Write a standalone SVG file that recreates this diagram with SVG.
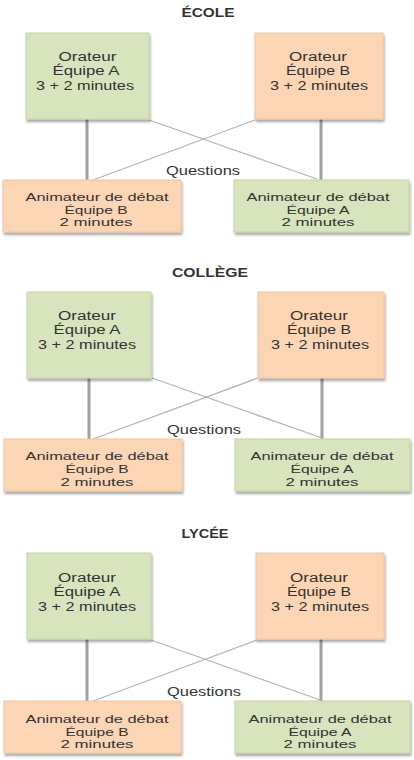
<svg xmlns="http://www.w3.org/2000/svg" width="414" height="760" viewBox="0 0 414 760">
<defs>
<filter id="sh" x="-10%" y="-10%" width="120%" height="130%">
<feDropShadow dx="1" dy="2.5" stdDeviation="1" flood-color="#000" flood-opacity="0.35"/>
</filter>
</defs>
<style>
.g{fill:#D7E4BD;stroke:#C4D6A0;stroke-width:1;filter:url(#sh)}
.o{fill:#FCD5B5;stroke:#F0C6A3;stroke-width:1;filter:url(#sh)}
.t{font-family:"Liberation Sans",Arial,sans-serif;font-size:12px;fill:#333;text-anchor:middle}
.s{font-family:"Liberation Sans",Arial,sans-serif;font-size:11px;fill:#333;text-anchor:middle}
.h{font-family:"Liberation Sans",Arial,sans-serif;font-size:13px;font-weight:bold;fill:#333;text-anchor:middle}
.v{stroke:#A0A0A0;stroke-width:3;fill:none}
.d{stroke:#B4B4B4;stroke-width:1.2;fill:none}
</style>
<rect width="414" height="760" fill="#fff"/>

<g id="connectors">
<line class="v" x1="87" y1="119" x2="87" y2="180"/>
<line class="v" x1="321" y1="119" x2="321" y2="180"/>
<line class="d" x1="149" y1="120" x2="317" y2="179"/>
<line class="d" x1="255" y1="120" x2="93" y2="180"/>
<line class="v" x1="89" y1="378" x2="89" y2="439"/>
<line class="v" x1="322" y1="378" x2="322" y2="439"/>
<line class="d" x1="152" y1="378" x2="322" y2="438"/>
<line class="d" x1="258" y1="378" x2="93" y2="439"/>
<line class="v" x1="87" y1="639" x2="87" y2="701"/>
<line class="v" x1="321" y1="639" x2="321" y2="701"/>
<line class="d" x1="151" y1="640" x2="320" y2="700"/>
<line class="d" x1="257" y1="640" x2="93" y2="701"/>
</g>

<g id="title-ecole"><text class="h" x="208" y="17" textLength="53" lengthAdjust="spacingAndGlyphs">ÉCOLE</text></g>
<g id="q1"><text class="t" x="203" y="175" textLength="74" lengthAdjust="spacingAndGlyphs">Questions</text></g>
<g id="ecole-orateur-a">
<rect class="g" x="26" y="33" width="123" height="86"/>
<text class="t" x="87.5" y="61" textLength="58" lengthAdjust="spacingAndGlyphs">Orateur</text>
<text class="t" x="86" y="75" textLength="67" lengthAdjust="spacingAndGlyphs">Équipe  A</text>
<text class="t" x="85" y="90" textLength="98" lengthAdjust="spacingAndGlyphs">3 + 2 minutes</text>
</g>
<g id="ecole-orateur-b">
<rect class="o" x="255" y="33" width="128" height="86"/>
<text class="t" x="318" y="61" textLength="58" lengthAdjust="spacingAndGlyphs">Orateur</text>
<text class="t" x="318" y="75" textLength="64" lengthAdjust="spacingAndGlyphs">Équipe  B</text>
<text class="t" x="319" y="90" textLength="98" lengthAdjust="spacingAndGlyphs">3 + 2 minutes</text>
</g>
<g id="ecole-animateur-b">
<rect class="o" x="3" y="180" width="178" height="52"/>
<text class="s" x="97" y="201" textLength="143" lengthAdjust="spacingAndGlyphs">Animateur de débat</text>
<text class="s" x="96" y="214" textLength="63" lengthAdjust="spacingAndGlyphs">Équipe B</text>
<text class="s" x="96" y="226" textLength="73" lengthAdjust="spacingAndGlyphs">2 minutes</text>
</g>
<g id="ecole-animateur-a">
<rect class="g" x="234" y="180" width="175" height="52"/>
<text class="s" x="318" y="201" textLength="143" lengthAdjust="spacingAndGlyphs">Animateur de débat</text>
<text class="s" x="318" y="214" textLength="63" lengthAdjust="spacingAndGlyphs">Équipe A</text>
<text class="s" x="318" y="226" textLength="73" lengthAdjust="spacingAndGlyphs">2 minutes</text>
</g>

<g id="title-college"><text class="h" x="210" y="277" textLength="76" lengthAdjust="spacingAndGlyphs">COLLÈGE</text></g>
<g id="q2"><text class="t" x="204" y="434" textLength="74" lengthAdjust="spacingAndGlyphs">Questions</text></g>
<g id="college-orateur-a">
<rect class="g" x="27" y="292" width="124" height="86"/>
<text class="t" x="87" y="320" textLength="58" lengthAdjust="spacingAndGlyphs">Orateur</text>
<text class="t" x="87" y="334" textLength="67" lengthAdjust="spacingAndGlyphs">Équipe  A</text>
<text class="t" x="87" y="349" textLength="98" lengthAdjust="spacingAndGlyphs">3 + 2 minutes</text>
</g>
<g id="college-orateur-b">
<rect class="o" x="258" y="292" width="126" height="86"/>
<text class="t" x="319" y="320" textLength="58" lengthAdjust="spacingAndGlyphs">Orateur</text>
<text class="t" x="319" y="334" textLength="64" lengthAdjust="spacingAndGlyphs">Équipe  B</text>
<text class="t" x="320" y="349" textLength="98" lengthAdjust="spacingAndGlyphs">3 + 2 minutes</text>
</g>
<g id="college-animateur-b">
<rect class="o" x="4" y="439" width="178" height="52"/>
<text class="s" x="97" y="460" textLength="143" lengthAdjust="spacingAndGlyphs">Animateur de débat</text>
<text class="s" x="97" y="473" textLength="63" lengthAdjust="spacingAndGlyphs">Équipe B</text>
<text class="s" x="97" y="486" textLength="73" lengthAdjust="spacingAndGlyphs">2 minutes</text>
</g>
<g id="college-animateur-a">
<rect class="g" x="235" y="439" width="175" height="52"/>
<text class="s" x="322" y="460" textLength="143" lengthAdjust="spacingAndGlyphs">Animateur de débat</text>
<text class="s" x="322" y="473" textLength="63" lengthAdjust="spacingAndGlyphs">Équipe A</text>
<text class="s" x="322" y="486" textLength="73" lengthAdjust="spacingAndGlyphs">2 minutes</text>
</g>

<g id="title-lycee"><text class="h" x="205" y="538" textLength="47" lengthAdjust="spacingAndGlyphs">LYCÉE</text></g>
<g id="q3"><text class="t" x="204" y="696" textLength="74" lengthAdjust="spacingAndGlyphs">Questions</text></g>
<g id="lycee-orateur-a">
<rect class="g" x="27" y="553" width="124" height="86"/>
<text class="t" x="87" y="582" textLength="58" lengthAdjust="spacingAndGlyphs">Orateur</text>
<text class="t" x="87" y="596" textLength="67" lengthAdjust="spacingAndGlyphs">Équipe  A</text>
<text class="t" x="87" y="611" textLength="98" lengthAdjust="spacingAndGlyphs">3 + 2 minutes</text>
</g>
<g id="lycee-orateur-b">
<rect class="o" x="256" y="553" width="128" height="86"/>
<text class="t" x="319" y="582" textLength="58" lengthAdjust="spacingAndGlyphs">Orateur</text>
<text class="t" x="319" y="596" textLength="64" lengthAdjust="spacingAndGlyphs">Équipe  B</text>
<text class="t" x="320" y="611" textLength="98" lengthAdjust="spacingAndGlyphs">3 + 2 minutes</text>
</g>
<g id="lycee-animateur-b">
<rect class="o" x="4" y="701" width="177" height="52"/>
<text class="s" x="97" y="723" textLength="143" lengthAdjust="spacingAndGlyphs">Animateur de débat</text>
<text class="s" x="97" y="735.5" textLength="63" lengthAdjust="spacingAndGlyphs">Équipe B</text>
<text class="s" x="97" y="748" textLength="73" lengthAdjust="spacingAndGlyphs">2 minutes</text>
</g>
<g id="lycee-animateur-a">
<rect class="g" x="235" y="701" width="175" height="52"/>
<text class="s" x="320" y="723" textLength="143" lengthAdjust="spacingAndGlyphs">Animateur de débat</text>
<text class="s" x="320" y="735.5" textLength="63" lengthAdjust="spacingAndGlyphs">Équipe A</text>
<text class="s" x="320" y="748" textLength="73" lengthAdjust="spacingAndGlyphs">2 minutes</text>
</g>
</svg>
